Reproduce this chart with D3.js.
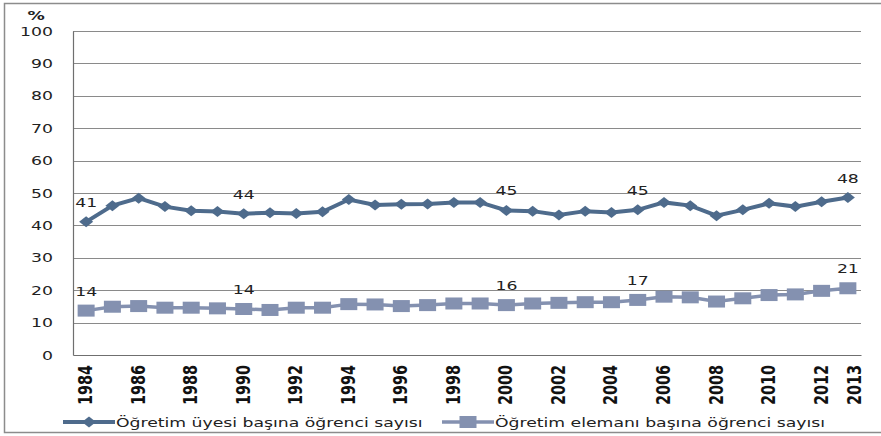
<!DOCTYPE html>
<html>
<head>
<meta charset="utf-8">
<script src="https://cdn.jsdelivr.net/npm/d3@7"></script>
<style>
  body { margin: 0; background: #fff; }
  svg { display: block; font-family: "DejaVu Sans", Verdana, sans-serif; }
</style>
</head>
<body>
<svg id="chart" width="881" height="436"></svg>
<script>
// chart data
const years = d3.range(1984, 2014);
const uyeValues = [41.1, 46.1, 48.4, 45.8, 44.5, 44.3, 43.6, 43.9, 43.7, 44.2,
    48.0, 46.3, 46.5, 46.6, 47.1, 47.1, 44.6, 44.4, 43.2, 44.4,
    44.0, 44.8, 47.1, 46.1, 43.0, 44.8, 46.8, 45.8, 47.3, 48.6];
const elemanValues = [13.7, 14.9, 15.1, 14.6, 14.6, 14.4, 14.2, 13.9, 14.6, 14.6,
    15.7, 15.6, 15.1, 15.4, 15.9, 15.9, 15.4, 15.9, 16.1, 16.3,
    16.3, 17.0, 18.0, 17.8, 16.5, 17.5, 18.5, 18.7, 19.8, 20.6];
const labelYears = [1984, 1990, 2000, 2005, 2013];
const uyeLabels = ['41', '44', '45', '45', '48'];
const elemanLabels = ['14', '14', '16', '17', '21'];
const tickYears = [1984, 1986, 1988, 1990, 1992, 1994, 1996, 1998, 2000, 2002, 2004, 2006, 2008, 2010, 2012, 2013];
const yTicks = [0, 10, 20, 30, 40, 50, 60, 70, 80, 90, 100];
const seriesNames = ['Öğretim üyesi başına öğrenci sayısı', 'Öğretim elemanı başına öğrenci sayısı'];

const colUye = '#4e6b8c';
const colEleman = '#8491b0';

// the picture is stretched sideways, so horizontal text is widened
const sx = 1.38;

const svg = d3.select('#chart');

// outer frame
svg.append('rect')
    .attr('x', 4.5).attr('y', 3.5)
    .attr('width', 890).attr('height', 429)
    .attr('fill', 'none')
    .attr('stroke', '#8c8c8c')
    .attr('stroke-width', 1.5);

const plot = {left: 73, right: 861, top: 31, bottom: 355};

const x = d3.scaleBand().domain(years).range([plot.left, plot.right]);
const cx = (yr) => x(yr) + x.bandwidth() / 2;
const y = d3.scaleLinear().domain([0, 100]).range([plot.bottom, plot.top]);

// wide text helper
const wideText = (sel, px, py) => sel
    .attr('x', 0).attr('y', 0)
    .attr('transform', `translate(${px},${py}) scale(${sx},1)`);

// grid lines
svg.append('g')
    .selectAll('line')
    .data(yTicks.filter((d) => d > 0))
    .enter()
    .append('line')
    .attr('x1', plot.left).attr('x2', plot.right)
    .attr('y1', (d) => Math.round(y(d)) + 0.5)
    .attr('y2', (d) => Math.round(y(d)) + 0.5)
    .attr('stroke', '#8a8a8a')
    .attr('stroke-width', 1.2);

// axes
const yAxis = svg.append('g')
    .attr('transform', `translate(${plot.left},0)`)
    .call(d3.axisLeft(y).tickValues(yTicks).tickSize(0).tickPadding(20));
yAxis.select('.domain').attr('stroke', '#6f6f6f').attr('stroke-width', 1.2);
yAxis.selectAll('text')
    .attr('font-size', 12.5)
    .attr('fill', '#222')
    .attr('font-family', '"DejaVu Sans", Verdana, sans-serif')
    .attr('x', -20 / sx)
    .attr('transform', `scale(${sx},1)`);

wideText(svg.append('text'), 36, 20)
    .attr('text-anchor', 'middle')
    .attr('font-size', 12.5)
    .attr('font-weight', 'bold')
    .attr('fill', '#222')
    .text('%');

const xAxis = svg.append('g')
    .attr('transform', `translate(0,${plot.bottom})`)
    .call(d3.axisBottom(x).tickValues(tickYears).tickSize(0).tickPadding(0));
xAxis.select('.domain').attr('stroke', '#6f6f6f').attr('stroke-width', 1.2);
xAxis.selectAll('text')
    .attr('font-size', 16)
    .attr('font-weight', 'bold')
    .attr('fill', '#111')
    .attr('font-family', '"Liberation Sans Narrow", "DejaVu Sans Condensed", sans-serif')
    .attr('text-anchor', 'end')
    .attr('y', 0)
    .attr('dy', null)
    .attr('transform', (d) => d === 2013 ? 'translate(13,10) scale(1.25,1) rotate(-90)' : 'translate(6,10) scale(1.25,1) rotate(-90)');

// lines
const line = (vals) => d3.line()
    .x((d, i) => cx(years[i]))
    .y((d) => y(d))(vals);

svg.append('path')
    .attr('d', line(elemanValues))
    .attr('fill', 'none')
    .attr('stroke', colEleman)
    .attr('stroke-width', 3.5);

svg.append('g')
    .selectAll('rect')
    .data(elemanValues)
    .enter()
    .append('rect')
    .attr('x', (d, i) => cx(years[i]) - 8.5)
    .attr('y', (d) => y(d) - 6)
    .attr('width', 17)
    .attr('height', 12)
    .attr('fill', colEleman);

svg.append('path')
    .attr('d', line(uyeValues))
    .attr('fill', 'none')
    .attr('stroke', colUye)
    .attr('stroke-width', 4);

const diamond = (px, py) => `M${px - 7},${py} L${px},${py - 5.5} L${px + 7},${py} L${px},${py + 5.5} Z`;

svg.append('g')
    .selectAll('path')
    .data(uyeValues)
    .enter()
    .append('path')
    .attr('d', (d, i) => diamond(cx(years[i]), y(d)))
    .attr('fill', colUye);

// data labels
const addLabels = (vals, labels) => {
    svg.append('g')
        .selectAll('text')
        .data(labelYears)
        .enter()
        .append('text')
        .each(function (d) {
            wideText(d3.select(this), cx(d), y(vals[years.indexOf(d)]) - 15);
        })
        .attr('text-anchor', 'middle')
        .attr('font-size', 12.5)
        .attr('fill', '#222')
        .text((d, i) => labels[i]);
};
addLabels(uyeValues, uyeLabels);
addLabels(elemanValues, elemanLabels);

// legend
const legend = [
    {name: seriesNames[0], color: colUye, x0: 63, shape: 'diamond'},
    {name: seriesNames[1], color: colEleman, x0: 442, shape: 'square'}
];
const ly = 422;
legend.forEach((d) => {
    const g = svg.append('g');
    g.append('line')
        .attr('x1', d.x0).attr('x2', d.x0 + 52)
        .attr('y1', ly).attr('y2', ly)
        .attr('stroke', d.color)
        .attr('stroke-width', d.shape === 'diamond' ? 4 : 3.5);
    if (d.shape === 'diamond')
        g.append('path').attr('d', diamond(d.x0 + 26, ly)).attr('fill', d.color);
    else
        g.append('rect').attr('x', d.x0 + 26 - 8.5).attr('y', ly - 6)
            .attr('width', 17).attr('height', 12).attr('fill', d.color);
    wideText(g.append('text'), d.x0 + 53, ly + 5)
        .attr('font-size', 12.5)
        .attr('fill', '#222')
        .text(d.name);
});
</script>
</body>
</html>
